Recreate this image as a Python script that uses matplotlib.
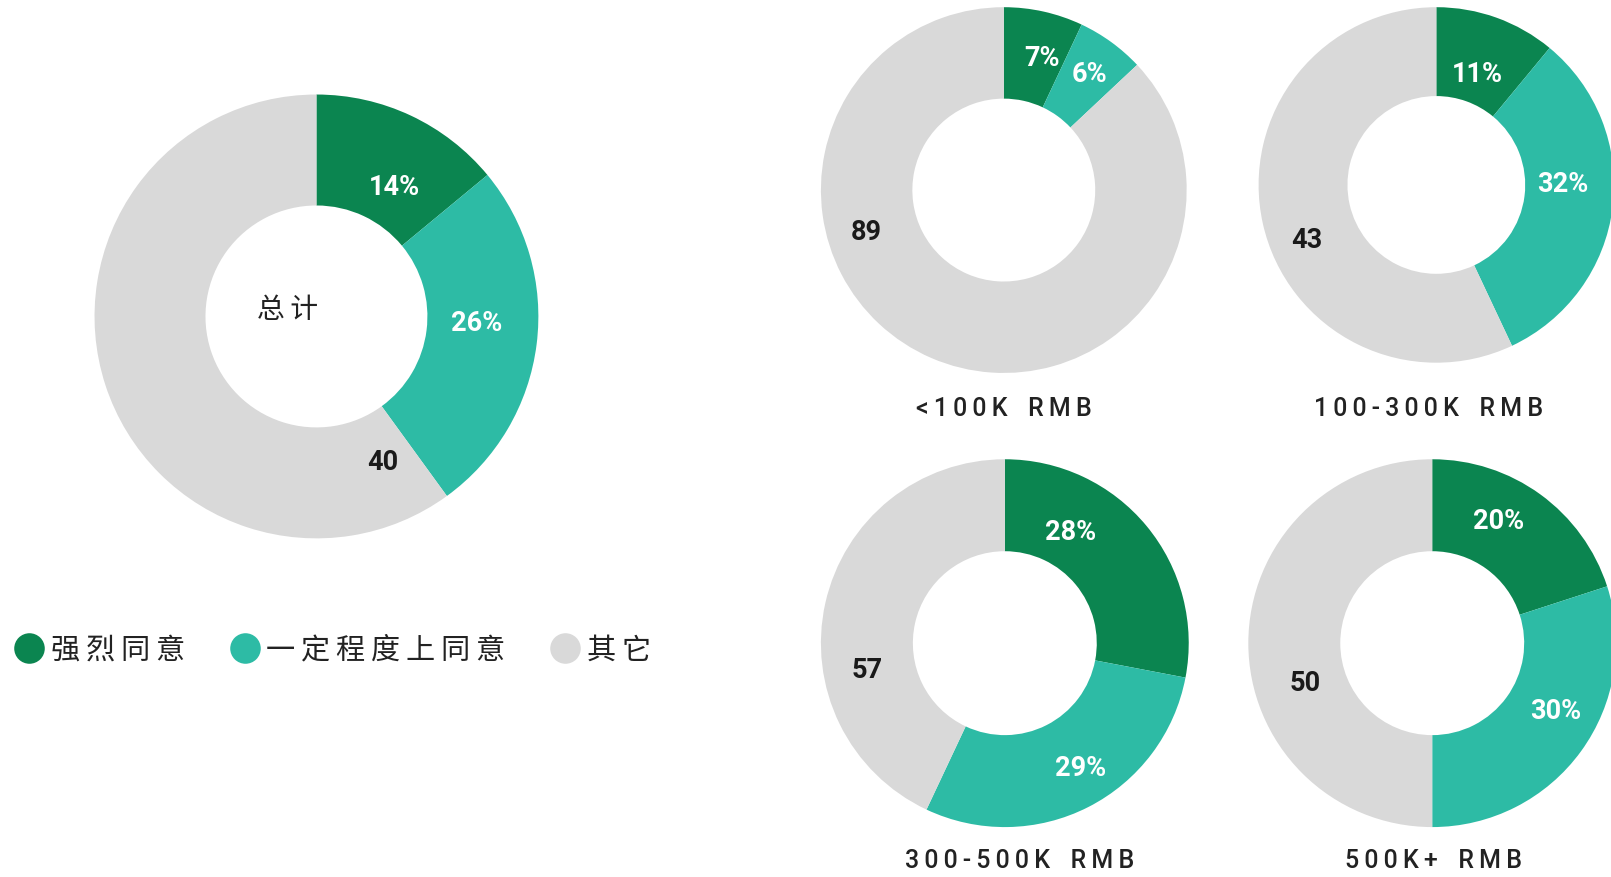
import matplotlib
matplotlib.use("Agg")
import matplotlib.pyplot as plt
from matplotlib.lines import Line2D

# ---------------- data ----------------
series_names = ["强烈同意", "一定程度上同意", "其它"]
colors = ["#0b8550", "#2dbba5", "#d9d9d9"]

total_values = [14, 26, 60]
total_labels = ["14%", "26%", "40"]

group_names = ["<100K RMB", "100-300K RMB", "300-500K RMB", "500K+ RMB"]
group_strong = [7, 11, 28, 20]
group_some = [6, 32, 29, 30]
group_other = [87, 57, 43, 50]
group_labels = [["7%", "6%", "89"], ["11%", "32%", "43"],
                ["28%", "29%", "57"], ["20%", "30%", "50"]]

# ---------------- layout (pixels in a 1611x877 canvas) ----------------
W, H = 1611, 877
S = 1611 / 1568

def P(x, y):
    return (x * S, H - y * S)

big = dict(center=P(308, 308), r=216 * S,
           lab=[(0.35, 0.58), (0.72, -0.03), (0.30, -0.66)])
smalls = [
    dict(center=P(977, 185), r=178 * S, title=P(977, 398),
         lab=[(0.21, 0.72), (0.47, 0.63), (-0.75, -0.23)]),
    dict(center=P(1398, 180), r=173 * S, title=P(1390, 398),
         lab=[(0.23, 0.62), (0.71, 0.0), (-0.73, -0.31)]),
    dict(center=P(978, 626), r=179 * S, title=P(992, 838),
         lab=[(0.36, 0.60), (0.41, -0.68), (-0.75, -0.15)]),
    dict(center=P(1394, 626), r=179 * S, title=P(1395, 838),
         lab=[(0.36, 0.66), (0.67, -0.37), (-0.69, -0.22)]),
]

plt.rcParams['font.family'] = ['Noto Sans CJK SC', 'DejaVu Sans']

fig = plt.figure(figsize=(W / 100, H / 100), dpi=100)
ax = fig.add_axes([0, 0, 1, 1])

LABFONT = ['Roboto', 'DejaVu Sans']
label_colors = ["white", "white", "#1a1a1a"]
TS = "\u2009"


def donut(values, labels, spec, fs):
    cx, cy = spec["center"]
    r = spec["r"]
    ax.pie(values, colors=colors, radius=r, center=(cx, cy), startangle=90,
           counterclock=False, frame=True,
           wedgeprops=dict(width=r * 0.5, edgecolor='none', linewidth=0))
    for (fx, fy), t, c in zip(spec["lab"], labels, label_colors):
        ax.text(cx + fx * r, cy + fy * r, t, ha='center', va='center',
                fontsize=fs, fontweight='bold', color=c, family=LABFONT)


donut(total_values, total_labels, big, 19.5)
bx, by = big["center"]
ax.text(bx - 0.13 * big["r"], by + 0.03 * big["r"], TS.join("总计"), ha='center',
        va='center', fontsize=20, color="#222222")


def letter_spaced(s):
    words = s.split(" ")
    return (TS * 4).join(TS.join(w) for w in words)


for i, spec in enumerate(smalls):
    vals = [group_strong[i], group_some[i], group_other[i]]
    donut(vals, group_labels[i], spec, 19.5)
    tx, ty = spec["title"]
    ax.text(tx, ty, letter_spaced(group_names[i]), ha='center', va='center',
            fontsize=18, color="#222222", family=['Roboto', 'DejaVu Sans'],
            fontweight='medium')

ax.set_xlim(0, W)
ax.set_ylim(0, H)
ax.set_aspect('equal')
ax.axis('off')

# legend
handles = [Line2D([], [], marker='o', linestyle='none', markersize=22,
                  markerfacecolor=c, markeredgecolor='none') for c in colors]
spaced_names = [TS.join(n) for n in series_names]
fs_leg = 21
em = fs_leg * 100 / 72.0
x_anchor = (28 * S - 0.5 * em - 0.4 * em) / W
leg = fig.legend(handles, spaced_names, loc='center left',
                 bbox_to_anchor=(x_anchor, 1 - 633 * S / H), ncol=3, frameon=False,
                 fontsize=fs_leg, handletextpad=0.25, columnspacing=1.55,
                 borderaxespad=0, handlelength=1.0)
for t in leg.get_texts():
    t.set_color("#222222")

fig.savefig("out.png", dpi=100, facecolor='white')
